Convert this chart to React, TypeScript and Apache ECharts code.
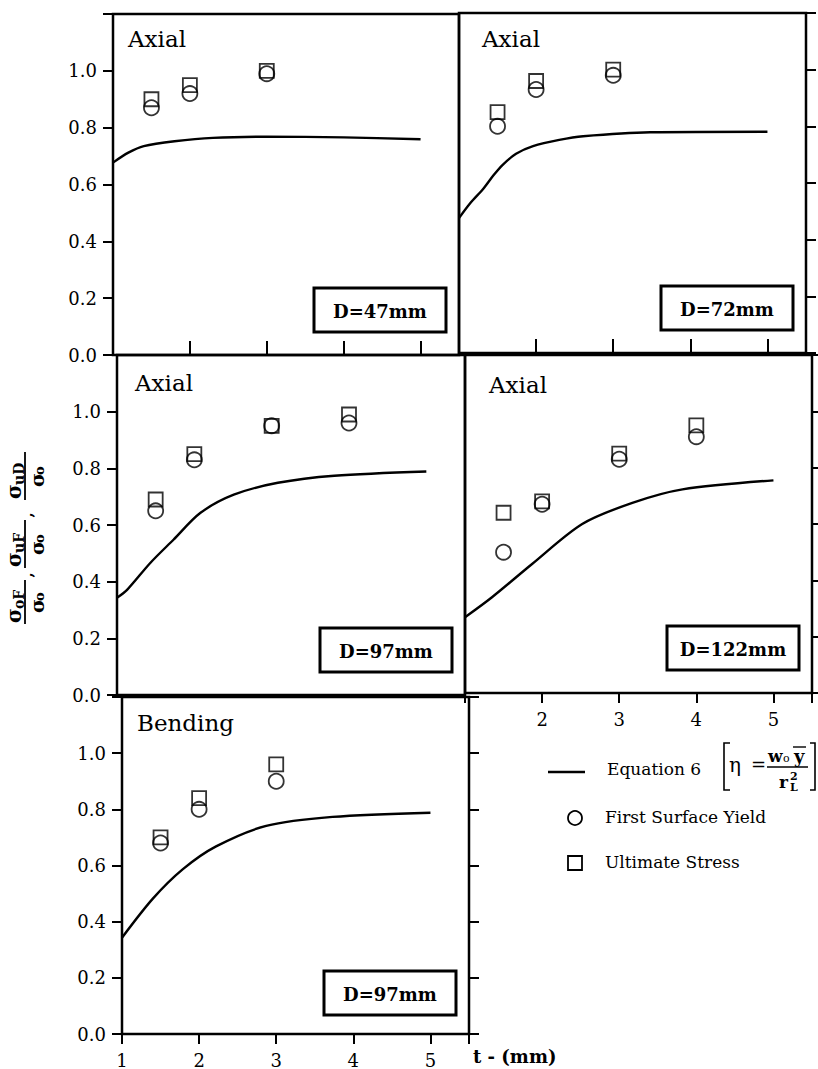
import { useEffect, useRef } from "react";
import * as echarts from "echarts";

const SERIF = "DejaVu Serif";

// Wall thickness t (mm) of the test specimens
const tAxial47 = [1.5, 2.0, 3.0];
const yieldAxial47 = [0.87, 0.92, 0.99];
const ultimateAxial47 = [0.9, 0.95, 1.0];

const tAxial72 = [1.5, 2.0, 3.0];
const yieldAxial72 = [0.8, 0.93, 0.98];
const ultimateAxial72 = [0.85, 0.96, 1.0];

const tAxial97 = [1.5, 2.0, 3.0, 4.0];
const yieldAxial97 = [0.65, 0.83, 0.95, 0.96];
const ultimateAxial97 = [0.69, 0.85, 0.95, 0.99];

const tAxial122 = [1.5, 2.0, 3.0, 4.0];
const yieldAxial122 = [0.5, 0.67, 0.83, 0.91];
const ultimateAxial122 = [0.64, 0.68, 0.85, 0.95];

const tBending97 = [1.5, 2.0, 3.0];
const yieldBending97 = [0.68, 0.8, 0.9];
const ultimateBending97 = [0.7, 0.84, 0.96];

// Equation 6 prediction curves
const eqT47 = [1, 1.2, 1.4, 1.8, 2.3, 3, 4, 5];
const eq47 = [0.677, 0.712, 0.735, 0.752, 0.764, 0.768, 0.766, 0.759];

const eqT72 = [1, 1.15, 1.31, 1.45, 1.57, 1.74, 1.96, 2.3, 2.61, 3.48, 5];
const eq72 = [0.476, 0.53, 0.578, 0.628, 0.665, 0.703, 0.73, 0.752, 0.765, 0.779, 0.781];

const eqT97a = [1, 1.13, 1.43, 1.73, 2.08, 2.51, 3.08, 3.81, 5];
const eq97a = [0.343, 0.371, 0.466, 0.548, 0.643, 0.707, 0.749, 0.774, 0.789];

const eqT122 = [1, 1.35, 1.87, 2.52, 3.17, 3.82, 5];
const eq122 = [0.269, 0.34, 0.458, 0.6, 0.675, 0.723, 0.755];

const eqT97b = [1, 1.4, 1.79, 2.22, 2.87, 3.73, 5];
const eq97b = [0.343, 0.482, 0.587, 0.668, 0.741, 0.773, 0.788];

// Axis ticks
const yTicks = [0, 0.2, 0.4, 0.6, 0.8, 1.0, 1.2];
const xTicks = [1, 2, 3, 4, 5];

const panels = [
  { load: "Axial", label: "D=47mm", t: tAxial47, fy: yieldAxial47, us: ultimateAxial47, eqT: eqT47, eq: eq47 },
  { load: "Axial", label: "D=72mm", t: tAxial72, fy: yieldAxial72, us: ultimateAxial72, eqT: eqT72, eq: eq72 },
  { load: "Axial", label: "D=97mm", t: tAxial97, fy: yieldAxial97, us: ultimateAxial97, eqT: eqT97a, eq: eq97a },
  { load: "Axial", label: "D=122mm", t: tAxial122, fy: yieldAxial122, us: ultimateAxial122, eqT: eqT122, eq: eq122 },
  { load: "Bending", label: "D=97mm", t: tBending97, fy: yieldBending97, us: ultimateBending97, eqT: eqT97b, eq: eq97b },
];

// Panel frames in pixels
const frames = [
  { left: 113, top: 14, width: 346, height: 341 },
  { left: 459, top: 13, width: 347, height: 340 },
  { left: 117, top: 355, width: 348, height: 340 },
  { left: 465, top: 355, width: 347, height: 338 },
  { left: 122, top: 697, width: 347, height: 341 },
];

const pairs = (xs: number[], ys: number[]) => xs.map((x, i) => [x, ys[i]]);

const xAxisFor = (
  gridIndex: number,
  position: "top" | "bottom",
  ticks: boolean,
  tickLen: number,
  labels: boolean,
  skip: number[] = []
) => ({
  type: "value",
  gridIndex,
  position,
  min: 1,
  max: 5.5,
  interval: 1,
  axisLine: { show: false },
  splitLine: { show: false },
  axisTick: { show: ticks, inside: false, length: tickLen, lineStyle: { color: "#000", width: 2 } },
  axisLabel: {
    show: labels,
    margin: 17,
    color: "#000",
    fontFamily: SERIF,
    fontSize: 18,
    showMinLabel: true,
    showMaxLabel: true,
    formatter: (v: number) =>
      xTicks.includes(v) && !skip.includes(v) ? String(v) : "",
  },
});

const yAxisFor = (gridIndex: number, position: "left" | "right", labels: boolean) => ({
  type: "value",
  gridIndex,
  position,
  min: yTicks[0],
  max: yTicks[yTicks.length - 1],
  interval: 0.2,
  axisLine: { show: false },
  splitLine: { show: false },
  axisTick: { show: true, inside: false, length: 10, lineStyle: { color: "#000", width: 2 } },
  axisLabel: {
    show: labels,
    margin: 16,
    color: "#000",
    fontFamily: SERIF,
    fontSize: 18,
    showMinLabel: true,
    showMaxLabel: true,
    formatter: (v: number) => (v > 1.05 ? "" : v.toFixed(1)),
  },
});

const xAxes = [
  xAxisFor(0, "top", true, 14, false),
  xAxisFor(1, "top", true, 14, false),
  xAxisFor(2, "bottom", false, 10, false),
  xAxisFor(3, "bottom", true, 10, true, [1]),
  xAxisFor(4, "bottom", true, 10, true),
];

const yAxes = [
  yAxisFor(0, "left", true),
  yAxisFor(1, "right", false),
  yAxisFor(2, "left", true),
  yAxisFor(3, "right", false),
  yAxisFor(4, "left", true),
  yAxisFor(4, "right", false),
];

const hollow = { color: "rgba(255,255,255,0)", borderColor: "#000", borderWidth: 1.8 };

const series: any[] = [];
panels.forEach((p, i) => {
  series.push({
    type: "line",
    name: "Equation 6",
    xAxisIndex: i,
    yAxisIndex: i,
    data: pairs(p.eqT, p.eq),
    smooth: 0.3,
    showSymbol: false,
    lineStyle: { color: "#000", width: 2.4 },
    z: 2,
  });
  series.push({
    type: "scatter",
    name: "Ultimate Stress",
    xAxisIndex: i,
    yAxisIndex: i,
    data: pairs(p.t, p.us),
    symbol: "rect",
    symbolSize: 14,
    itemStyle: hollow,
    z: 3,
  });
  series.push({
    type: "scatter",
    name: "First Surface Yield",
    xAxisIndex: i,
    yAxisIndex: i,
    data: pairs(p.t, p.fy),
    symbol: "circle",
    symbolSize: 15,
    itemStyle: hollow,
    z: 3,
  });
});

const txt = (text: string, x: number, y: number, font: string, align = "left", vAlign = "bottom") => ({
  type: "text",
  x,
  y,
  z: 10,
  style: { text, font, fill: "#000", textAlign: align, textVerticalAlign: vAlign },
});

const graphics: any[] = [];

// Load-type captions and diameter boxes
const captionPos = [
  [128, 50],
  [482, 50],
  [135, 394],
  [489, 396],
  [137, 734],
];
panels.forEach((p, i) => {
  const f = frames[i];
  graphics.push(txt(p.load, captionPos[i][0], captionPos[i][1], `23px ${SERIF}`));
  const bx = f.left + f.width - 145;
  const by = f.top + f.height - 67;
  graphics.push({
    type: "rect",
    z: 9,
    shape: { x: bx, y: by, width: 132, height: 44 },
    style: { fill: "#fff", stroke: "#000", lineWidth: 3 },
  });
  graphics.push(txt(p.label, bx + 66, by + 23, `bold 18px ${SERIF}`, "center", "middle"));
});

// Vertical axis title: σoF/σo , σuF/σo , σuD/σo
const fracs = [
  { s: 0, w: 44, sub: "oF" },
  { s: 56, w: 48, sub: "uF" },
  { s: 124, w: 48, sub: "uD" },
];
const titleChildren: any[] = [];
fracs.forEach((fr, i) => {
  titleChildren.push({
    type: "line",
    shape: { x1: fr.s, y1: 0, x2: fr.s + fr.w, y2: 0 },
    style: { stroke: "#000", lineWidth: 1.8 },
  });
  titleChildren.push({
    type: "text",
    x: fr.s + 1,
    y: -1,
    style: { text: "σ", font: `bold 20px ${SERIF}`, fill: "#000", textAlign: "left", textVerticalAlign: "bottom" },
  });
  titleChildren.push({
    type: "text",
    x: fr.s + 15,
    y: 1,
    style: { text: fr.sub, font: `bold 14px ${SERIF}`, fill: "#000", textAlign: "left", textVerticalAlign: "bottom" },
  });
  titleChildren.push({
    type: "text",
    x: fr.s + fr.w / 2 - 11,
    y: 2,
    style: { text: "σ", font: `bold 19px ${SERIF}`, fill: "#000", textAlign: "left", textVerticalAlign: "top" },
  });
  titleChildren.push({
    type: "text",
    x: fr.s + fr.w / 2 + 1,
    y: 8,
    style: { text: "o", font: `bold 13px ${SERIF}`, fill: "#000", textAlign: "left", textVerticalAlign: "top" },
  });
  if (i < fracs.length - 1) {
    titleChildren.push({
      type: "text",
      x: fr.s + fr.w + 5,
      y: 9,
      style: { text: ",", font: `bold 15px ${SERIF}`, fill: "#000", textAlign: "center", textVerticalAlign: "bottom" },
    });
  }
});
graphics.push({ type: "group", x: 25, y: 624, rotation: Math.PI / 2, children: titleChildren });

// Horizontal axis title
graphics.push(txt("t - (mm)", 473, 1065, `bold 18px ${SERIF}`));

// Key
graphics.push({
  type: "line",
  shape: { x1: 548, y1: 772, x2: 585, y2: 772 },
  style: { stroke: "#000", lineWidth: 2.4 },
});
graphics.push(txt("Equation 6", 607, 777, `17px ${SERIF}`));
graphics.push({
  type: "polyline",
  shape: { points: [[730, 743], [724, 743], [724, 790], [730, 790]] },
  style: { stroke: "#000", lineWidth: 1.6, fill: null },
});
graphics.push({
  type: "polyline",
  shape: { points: [[810, 743], [815, 743], [815, 790], [810, 790]] },
  style: { stroke: "#000", lineWidth: 1.6, fill: null },
});
graphics.push(txt("η", 729, 775, `20px ${SERIF}`));
graphics.push(txt("=", 751, 773, `18px ${SERIF}`));
graphics.push({
  type: "line",
  shape: { x1: 767, y1: 767, x2: 808, y2: 767 },
  style: { stroke: "#000", lineWidth: 1.5 },
});
graphics.push(txt("w", 768, 764, `bold 17px ${SERIF}`));
graphics.push(txt("o", 783, 764, `11px ${SERIF}`));
graphics.push(txt("y", 794, 765, `bold 18px ${SERIF}`));
graphics.push({
  type: "line",
  shape: { x1: 793, y1: 747, x2: 806, y2: 747 },
  style: { stroke: "#000", lineWidth: 1.4 },
});
graphics.push(txt("r", 779, 790, `bold 17px ${SERIF}`));
graphics.push(txt("2", 790, 782, `bold 11px ${SERIF}`));
graphics.push(txt("L", 790, 793, `bold 11px ${SERIF}`));

graphics.push({
  type: "circle",
  shape: { cx: 575, cy: 818, r: 7 },
  style: { fill: "none", stroke: "#000", lineWidth: 1.8 },
});
graphics.push(txt("First Surface Yield", 605, 825, `17px ${SERIF}`));
graphics.push({
  type: "rect",
  shape: { x: 568, y: 856, width: 14, height: 14 },
  style: { fill: "none", stroke: "#000", lineWidth: 1.8 },
});
graphics.push(txt("Ultimate Stress", 605, 870, `17px ${SERIF}`));

export default function App() {
  const ref = useRef<HTMLDivElement>(null);
  useEffect(() => {
    if (!ref.current) return;
    const chart = echarts.init(ref.current, undefined, { renderer: "svg" });
    chart.setOption({
      animation: false,
      backgroundColor: "#fff",
      grid: frames.map((f) => ({
        ...f,
        show: true,
        borderColor: "#000",
        borderWidth: 2.5,
        backgroundColor: "transparent",
        containLabel: false,
      })),
      xAxis: xAxes,
      yAxis: yAxes,
      series,
      graphic: graphics,
    });
    return () => chart.dispose();
  }, []);
  return (
    <div
      ref={ref}
      style={{ position: "fixed", left: 0, top: 0, width: 818, height: 1069, background: "#fff" }}
    />
  );
}
